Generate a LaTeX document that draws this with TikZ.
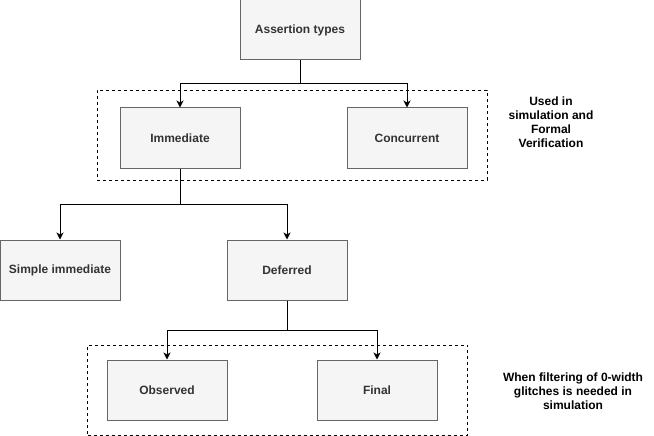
\documentclass[tikz,border=0pt]{standalone}
\usepackage{fontspec}
\setmainfont{Liberation Sans}
\usetikzlibrary{arrows.meta}
\definecolor{boxfill}{HTML}{F5F5F5}
\definecolor{boxdraw}{HTML}{666666}
\definecolor{boxtext}{HTML}{333333}
\tikzset{
  box/.style={draw=boxdraw, fill=boxfill, line width=1pt, minimum width=120pt, minimum height=60pt,
    inner sep=0pt, font=\fontsize{12}{14}\selectfont\bfseries, text=boxtext},
  grp/.style={draw=black, line width=0.8pt, dash pattern=on 3pt off 3pt, inner sep=0pt},
  note/.style={font=\fontsize{12}{14}\selectfont\bfseries, align=center, text=black, inner sep=0pt},
  arr/.style={draw=black, line width=1pt, -{Stealth[length=7pt,width=7pt,inset=2pt]}},
}
\begin{document}
\begin{tikzpicture}[x=1pt,y=-1pt]
\useasboundingbox (0,0) rectangle (654,436);
\node[grp, minimum width=390pt, minimum height=90pt] (g1) at (292,135) {};
\node[grp, minimum width=380pt, minimum height=90pt] (g2) at (277.5,390) {};
\node[box] (at) at (300,30) {Assertion types};
\node[box] (imm) at (180,138) {Immediate};
\node[box] (con) at (407,138) {Concurrent};
\node[box] (simp) at (60,270) {Simple immediate};
\node[box] (def) at (287,270) {Deferred};
\node[box] (obs) at (167,390) {Observed};
\node[box] (fin) at (377,390) {Final};
\node[note] (n1) at (551,122) {Used in\\simulation and\\Formal\\Verification};
\node[note] (n2) at (573,391) {When filtering of 0-width\\glitches is needed in\\simulation};
\coordinate (j1) at (300,84);
\coordinate (j2) at (180,204);
\coordinate (j3) at (287,330);
\draw[line width=1pt] (at.south) -- (j1);
\draw[arr] (j1) -| (imm.north);
\draw[arr] (j1) -| (con.north);
\draw[line width=1pt] (imm.south) -- (j2);
\draw[arr] (j2) -| (simp.north);
\draw[arr] (j2) -| (def.north);
\draw[line width=1pt] (def.south) -- (j3);
\draw[arr] (j3) -| (obs.north);
\draw[arr] (j3) -| (fin.north);
\end{tikzpicture}
\end{document}
